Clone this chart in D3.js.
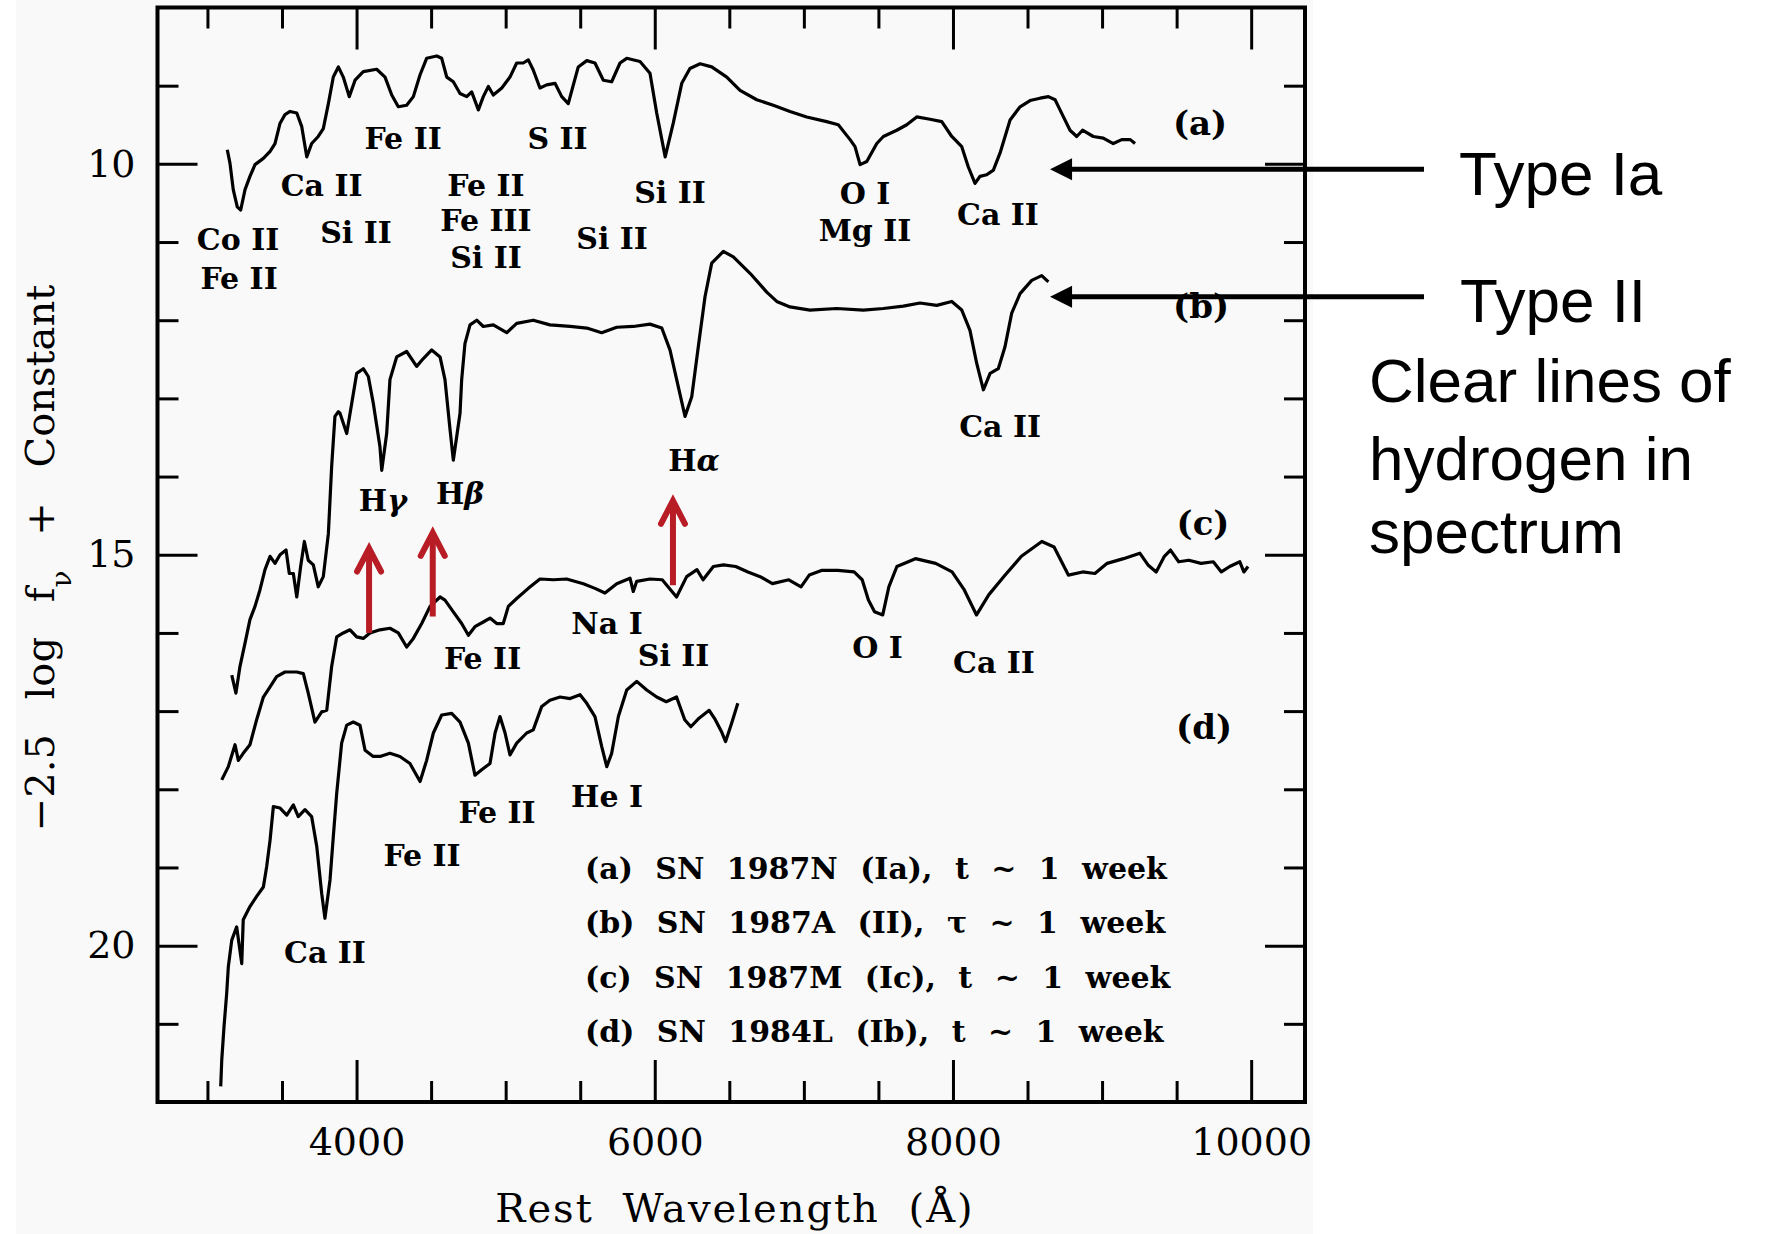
<!DOCTYPE html>
<html lang="en">
<head>
<meta charset="utf-8">
<title>Supernova spectra at one week</title>
<script src="https://cdn.jsdelivr.net/npm/d3@7/dist/d3.min.js"></script>
<style>
body { margin: 0; background: #fff; }
.axis text { font-family: "DejaVu Serif", serif; font-size: 38px; fill: #000; }
.axis line { stroke: #000; stroke-width: 3; }
.axis path { display: none; }
.lbl { font-family: "DejaVu Serif", serif; font-size: 30px; font-weight: bold; fill: #000; }
.note { font-family: "Liberation Sans", Arial, sans-serif; font-size: 62px; fill: #000; }
</style>
</head>
<body>
<script>
// spectra: [rest wavelength (A), -2.5 log f_nu + const]
var specA = [[3133,9.82],[3151,9.99],[3173,10.33],[3200,10.55],[3223,10.59],[3252,10.33],[3285,10.16],[3319,10.01],[3375,9.93],[3420,9.84],[3453,9.74],[3487,9.48],[3520,9.37],[3554,9.33],[3599,9.35],[3632,9.52],[3666,9.91],[3699,9.74],[3743,9.65],[3777,9.55],[3811,9.23],[3844,8.89],[3878,8.76],[3911,8.89],[3951,9.14],[3990,8.93],[4045,8.82],[4135,8.79],[4191,8.89],[4236,9.12],[4280,9.27],[4336,9.25],[4381,9.14],[4426,8.86],[4470,8.65],[4538,8.62],[4571,8.65],[4605,8.89],[4649,8.95],[4694,9.10],[4739,9.14],[4772,9.08],[4817,9.31],[4850,9.14],[4884,9.01],[4917,9.12],[4974,9.03],[5029,8.89],[5074,8.71],[5118,8.71],[5152,8.67],[5185,8.80],[5230,9.03],[5275,8.99],[5331,8.97],[5376,9.14],[5420,9.23],[5454,8.99],[5487,8.76],[5544,8.68],[5599,8.71],[5655,8.93],[5711,8.95],[5767,8.71],[5812,8.65],[5901,8.69],[5968,8.84],[6013,9.35],[6070,9.91],[6124,9.48],[6181,8.97],[6236,8.78],[6304,8.72],[6382,8.76],[6483,8.89],[6572,9.06],[6684,9.18],[6795,9.25],[6907,9.33],[7019,9.40],[7153,9.46],[7231,9.50],[7310,9.69],[7343,9.78],[7377,10.01],[7422,9.97],[7489,9.74],[7533,9.65],[7623,9.57],[7690,9.50],[7757,9.40],[7846,9.43],[7925,9.46],[7992,9.65],[8059,9.78],[8103,10.04],[8148,10.25],[8181,10.16],[8226,10.14],[8271,10.08],[8316,9.86],[8383,9.44],[8450,9.27],[8517,9.19],[8584,9.16],[8640,9.14],[8685,9.18],[8718,9.31],[8785,9.57],[8830,9.65],[8869,9.57],[8941,9.65],[9008,9.67],[9075,9.74],[9132,9.69],[9189,9.69],[9221,9.74]];

var specB = [[3163,16.54],[3191,16.77],[3218,16.43],[3252,16.13],[3285,15.83],[3319,15.66],[3352,15.45],[3386,15.19],[3420,15.02],[3453,15.11],[3487,15.00],[3527,14.94],[3549,15.24],[3576,15.24],[3599,15.54],[3625,15.15],[3650,14.83],[3676,15.07],[3710,15.13],[3743,15.41],[3777,15.28],[3811,14.73],[3833,13.87],[3855,13.23],[3878,13.17],[3889,13.19],[3934,13.45],[3968,13.06],[4001,12.68],[4045,12.62],[4079,12.72],[4112,13.06],[4157,13.62],[4169,13.92],[4202,13.45],[4224,12.76],[4269,12.47],[4336,12.40],[4403,12.59],[4448,12.49],[4504,12.38],[4560,12.47],[4593,12.76],[4627,13.40],[4649,13.79],[4694,13.19],[4705,12.76],[4727,12.30],[4761,12.06],[4806,12.00],[4850,12.08],[4917,12.06],[5007,12.16],[5074,12.04],[5185,12.00],[5297,12.06],[5432,12.08],[5544,12.10],[5644,12.16],[5745,12.09],[5856,12.08],[5968,12.05],[6047,12.10],[6102,12.38],[6147,12.76],[6203,13.23],[6248,12.98],[6292,12.34],[6337,11.70],[6382,11.27],[6460,11.12],[6527,11.19],[6639,11.40],[6751,11.64],[6818,11.76],[6907,11.83],[7041,11.87],[7220,11.85],[7399,11.87],[7533,11.85],[7667,11.82],[7779,11.78],[7891,11.81],[7992,11.76],[8059,11.87],[8114,12.13],[8159,12.55],[8204,12.89],[8249,12.68],[8304,12.62],[8349,12.34],[8394,11.91],[8450,11.66],[8528,11.49],[8595,11.43],[8640,11.51]];

var specC = [[3096,17.88],[3140,17.71],[3185,17.43],[3207,17.63],[3240,17.54],[3285,17.43],[3330,17.11],[3375,16.82],[3420,16.69],[3464,16.56],[3520,16.50],[3599,16.50],[3643,16.52],[3676,16.77],[3721,17.14],[3766,17.01],[3800,16.99],[3833,16.43],[3867,16.05],[3911,16.00],[3956,15.96],[4001,16.05],[4045,16.07],[4090,16.00],[4157,15.96],[4224,15.94],[4280,16.00],[4336,16.18],[4381,16.07],[4437,15.88],[4493,15.66],[4560,15.54],[4593,15.58],[4649,15.73],[4705,15.88],[4750,16.03],[4794,15.92],[4850,15.86],[4895,15.81],[4940,15.88],[4984,15.88],[5018,15.66],[5074,15.56],[5152,15.43],[5230,15.31],[5320,15.32],[5409,15.31],[5521,15.37],[5599,15.43],[5666,15.49],[5745,15.37],[5834,15.30],[5856,15.47],[5879,15.34],[5968,15.31],[6050,15.32],[6146,15.54],[6214,15.28],[6283,15.19],[6324,15.32],[6393,15.15],[6461,15.13],[6543,15.15],[6625,15.22],[6707,15.28],[6789,15.37],[6899,15.32],[6981,15.41],[7036,15.26],[7118,15.20],[7228,15.20],[7337,15.22],[7391,15.32],[7433,15.58],[7474,15.73],[7529,15.77],[7570,15.41],[7624,15.15],[7748,15.05],[7884,15.11],[7994,15.22],[8076,15.45],[8158,15.77],[8241,15.51],[8350,15.26],[8459,15.02],[8596,14.83],[8678,14.90],[8774,15.26],[8870,15.22],[8952,15.24],[9034,15.11],[9144,15.05],[9253,14.98],[9308,15.13],[9363,15.22],[9418,15.02],[9459,14.94],[9514,15.09],[9582,15.07],[9664,15.11],[9746,15.09],[9800,15.22],[9856,15.15],[9924,15.09],[9951,15.22],[9979,15.15]];

var specD = [[3089,21.80],[3096,21.46],[3111,21.04],[3129,20.61],[3140,20.27],[3163,19.93],[3196,19.76],[3230,20.23],[3240,19.67],[3285,19.50],[3330,19.37],[3375,19.25],[3397,18.99],[3420,18.65],[3442,18.22],[3487,18.24],[3532,18.33],[3576,18.20],[3609,18.35],[3654,18.26],[3699,18.35],[3733,18.73],[3766,19.33],[3788,19.65],[3822,19.16],[3844,18.61],[3867,18.05],[3900,17.41],[3934,17.18],[3978,17.14],[4023,17.18],[4057,17.50],[4112,17.58],[4157,17.58],[4224,17.54],[4291,17.58],[4358,17.67],[4426,17.90],[4470,17.63],[4515,17.28],[4571,17.05],[4638,17.03],[4694,17.14],[4750,17.41],[4794,17.82],[4839,17.75],[4895,17.67],[4929,17.28],[4962,17.07],[4996,17.28],[5029,17.56],[5074,17.41],[5141,17.28],[5185,17.24],[5242,16.94],[5297,16.86],[5365,16.82],[5432,16.84],[5499,16.79],[5544,16.90],[5599,17.07],[5644,17.45],[5678,17.71],[5711,17.54],[5756,17.07],[5812,16.73],[5879,16.62],[5946,16.73],[6013,16.82],[6077,16.88],[6146,16.82],[6201,17.11],[6242,17.20],[6297,17.09],[6365,16.99],[6406,17.11],[6447,17.26],[6475,17.39],[6515,17.16],[6557,16.90]];

var xMajor = [4000, 6000, 8000, 10000];
var yMajor = [10, 15, 20];

// line identifications: text, wavelength, magnitude, optional greek suffix
var lineLabels = [
  ["Fe II", 4312, 9.67], ["S II", 5348, 9.67], ["Ca II", 3766, 10.27], ["Si II", 3996, 10.87],
  ["Fe II", 4868, 10.27], ["Fe III", 4868, 10.72], ["Si II", 4868, 11.19], ["Co II", 3205, 10.97],
  ["Fe II", 3212, 11.46], ["Si II", 5714, 10.95], ["Si II", 6102, 10.36], ["O I", 7410, 10.37],
  ["Mg II", 7410, 10.85], ["Ca II", 8302, 10.65],
  ["Ca II", 8316, 13.36], ["H", 4177, 14.30, "γ"], ["H", 4694, 14.21, "β"], ["H", 6263, 13.79, "α"],
  ["Fe II", 4845, 16.32], ["Na I", 5680, 15.87], ["Si II", 6126, 16.28], ["O I", 7494, 16.18], ["Ca II", 8275, 16.37],
  ["Fe II", 4942, 18.29], ["He I", 5680, 18.09], ["Fe II", 4439, 18.84], ["Ca II", 3788, 20.09]
];
var seriesTags = [["(a)", 9657, 9.48], ["(b)", 9664, 11.81], ["(c)", 9677, 14.59], ["(d)", 9684, 17.20]];
var legendText = ["(a) SN 1987N (Ia), t ~ 1 week", "(b) SN 1987A (II), τ ~ 1 week",
                  "(c) SN 1987M (Ic), t ~ 1 week", "(d) SN 1984L (Ib), t ~ 1 week"];

// red arrows under the hydrogen lines: wavelength, mag bottom, mag tip
var hArrows = [[4084, 16.00, 14.92], [4511, 15.79, 14.72], [6122, 15.39, 14.31]];
// black pointers to spectra a and b: tip wavelength, tail wavelength, magnitude
var typeArrows = [[8651, 11159, 10.07], [8651, 11159, 11.70]];
var notes = [["Type Ia", 1459, 195], ["Type II", 1460, 322], ["Clear lines of", 1369, 402],
             ["hydrogen in", 1369, 480], ["spectrum", 1369, 553]];

var W = 1766, H = 1234;
var padL = 157.5, padR = 1305, padT = 7.5, padB = 1102;

var svg = d3.select("body").append("svg").attr("width", W).attr("height", H);

svg.append("rect").attr("x", 16).attr("y", 0).attr("width", 1297).attr("height", H).attr("fill", "#f9f9f9");

var x = d3.scaleLinear().domain([2665, 10361]).range([padL, padR]);
var y = d3.scaleLinear().domain([8, 22]).range([padT, padB]);

//axes, ticks pointing inward on all four sides
var minorX = d3.range(3000, 10001, 500).filter(function(v){ return xMajor.indexOf(v) < 0; });
var minorY = d3.range(9, 22).filter(function(v){ return yMajor.indexOf(v) < 0; });

svg.append("g").attr("class", "axis").attr("transform", "translate(0," + padB + ")")
   .call(d3.axisBottom(x).tickValues(xMajor).tickSizeInner(-42).tickSizeOuter(0).tickPadding(26).tickFormat(d3.format("d")));
svg.append("g").attr("class", "axis").attr("transform", "translate(0," + padB + ")")
   .call(d3.axisBottom(x).tickValues(minorX).tickSizeInner(-21).tickSizeOuter(0).tickFormat(""));
svg.append("g").attr("class", "axis").attr("transform", "translate(0," + padT + ")")
   .call(d3.axisTop(x).tickValues(xMajor).tickSizeInner(-42).tickSizeOuter(0).tickFormat(""));
svg.append("g").attr("class", "axis").attr("transform", "translate(0," + padT + ")")
   .call(d3.axisTop(x).tickValues(minorX).tickSizeInner(-21).tickSizeOuter(0).tickFormat(""));
svg.append("g").attr("class", "axis").attr("transform", "translate(" + padL + ",0)")
   .call(d3.axisLeft(y).tickValues(yMajor).tickSizeInner(-40).tickSizeOuter(0).tickPadding(22));
svg.append("g").attr("class", "axis").attr("transform", "translate(" + padL + ",0)")
   .call(d3.axisLeft(y).tickValues(minorY).tickSizeInner(-21).tickSizeOuter(0).tickFormat(""));
svg.append("g").attr("class", "axis").attr("transform", "translate(" + padR + ",0)")
   .call(d3.axisRight(y).tickValues(yMajor).tickSizeInner(-40).tickSizeOuter(0).tickFormat(""));
svg.append("g").attr("class", "axis").attr("transform", "translate(" + padR + ",0)")
   .call(d3.axisRight(y).tickValues(minorY).tickSizeInner(-21).tickSizeOuter(0).tickFormat(""));

svg.append("rect").attr("x", padL).attr("y", padT).attr("width", padR - padL).attr("height", padB - padT)
   .attr("fill", "none").attr("stroke", "#000").attr("stroke-width", 4);

//spectra
var line = d3.line().x(function(d){ return x(d[0]); }).y(function(d){ return y(d[1]); });
svg.selectAll("path.spec")
   .data([specA, specB, specC, specD])
   .enter().append("path")
   .attr("class", "spec")
   .attr("d", line)
   .attr("fill", "none").attr("stroke", "#000").attr("stroke-width", 3.2)
   .attr("stroke-linejoin", "round");

//labels
var lab = svg.selectAll("text.id")
   .data(lineLabels)
   .enter().append("text")
   .attr("class", "lbl id")
   .attr("x", function(d){ return x(d[1]); })
   .attr("y", function(d){ return y(d[2]); })
   .attr("dy", "0.36em")
   .attr("text-anchor", "middle")
   .text(function(d){ return d[0]; });
lab.filter(function(d){ return d[3]; }).append("tspan")
   .attr("font-style", "italic").text(function(d){ return d[3]; });

svg.selectAll("text.tag")
   .data(seriesTags)
   .enter().append("text")
   .attr("class", "lbl tag")
   .attr("x", function(d){ return x(d[1]); })
   .attr("y", function(d){ return y(d[2]); })
   .attr("dy", "0.36em")
   .attr("text-anchor", "middle")
   .style("font-size", "34px")
   .text(function(d){ return d[0]; });

svg.selectAll("text.leg")
   .data(legendText)
   .enter().append("text")
   .attr("class", "lbl leg")
   .attr("x", 585)
   .attr("y", function(d, i){ return 868 + i * 54.5; })
   .attr("dy", "0.36em")
   .style("word-spacing", "12px")
   .text(function(d){ return d; });

//axis titles
svg.append("text")
   .attr("x", 735).attr("y", 1222)
   .attr("text-anchor", "middle")
   .style("font-family", "DejaVu Serif, serif").style("font-size", "40px")
   .style("letter-spacing", "2px").style("word-spacing", "14px")
   .text("Rest Wavelength (Å)");

var yt = svg.append("text")
   .attr("transform", "translate(54,558) rotate(-90)")
   .attr("text-anchor", "middle")
   .style("font-family", "DejaVu Serif, serif").style("font-size", "40px")
   .style("word-spacing", "22px");
yt.append("tspan").text("−2.5 log f");
yt.append("tspan").attr("baseline-shift", "sub").style("font-size", "28px").text("ν");
yt.append("tspan").text(" + Constant");

//red arrows
var red = "#b81c24";
hArrows.forEach(function(a){
  var ax = x(a[0]), y0 = y(a[1]), y1 = y(a[2]);
  svg.append("line").attr("x1", ax).attr("x2", ax).attr("y1", y0).attr("y2", y1 + 2)
     .attr("stroke", red).attr("stroke-width", 6);
  svg.append("path")
     .attr("d", "M" + (ax - 12) + "," + (y1 + 23) + "L" + ax + "," + y1 + "L" + (ax + 12) + "," + (y1 + 23))
     .attr("fill", "none").attr("stroke", red).attr("stroke-width", 6)
     .attr("stroke-linecap", "round").attr("stroke-linejoin", "miter");
});

//black pointers and side notes
typeArrows.forEach(function(a){
  var tx = x(a[0]), ex = x(a[1]), ay = y(a[2]);
  svg.append("line").attr("x1", tx + 18).attr("x2", ex).attr("y1", ay).attr("y2", ay)
     .attr("stroke", "#000").attr("stroke-width", 5);
  svg.append("path")
     .attr("d", "M" + tx + "," + ay + "L" + (tx + 22) + "," + (ay - 11) + "L" + (tx + 22) + "," + (ay + 11) + "Z")
     .attr("fill", "#000");
});

svg.selectAll("text.note")
   .data(notes)
   .enter().append("text")
   .attr("class", "note")
   .attr("x", function(d){ return d[1]; })
   .attr("y", function(d){ return d[2]; })
   .text(function(d){ return d[0]; });
</script>
</body>
</html>
